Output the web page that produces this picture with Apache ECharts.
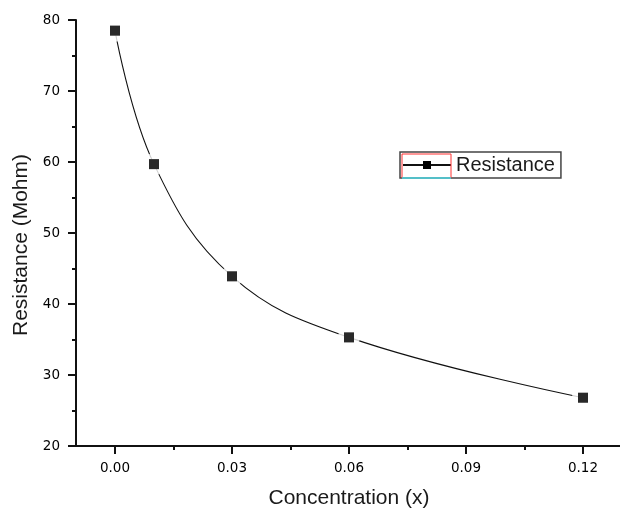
<!DOCTYPE html>
<html>
<head>
<meta charset="utf-8">
<script src="https://cdn.jsdelivr.net/npm/echarts@6/dist/echarts.min.js"></script>
<style>
  html, body { margin: 0; padding: 0; background: #fff; }
  #main { width: 620px; height: 510px; }
</style>
</head>
<body>
<div id="main"></div>
<script>
// data
const concentration = [0, 0.01, 0.03, 0.06, 0.12];
const resistance = [78.5, 59.7, 43.9, 35.3, 26.8];
const xTicks = [0, 0.03, 0.06, 0.09, 0.12];
const xMinorTicks = [0.015, 0.045, 0.075, 0.105];
const seriesName = 'Resistance';

const points = concentration.map((c, i) => [c, resistance[i]]);
const axisColor = '#111';
const font = 'DejaVu Sans';
const titleFont = 'Liberation Sans';

const chart = echarts.init(document.getElementById('main'), null, { renderer: 'canvas' });

const option = {
  animation: false,
  backgroundColor: '#fff',
  grid: { left: 76, top: 20, width: 546, height: 426, outerBoundsMode: 'none', containLabel: false },
  legend: {
    data: [seriesName],
    left: 400,
    top: 152,
    orient: 'horizontal',
    padding: [3, 6, 3, 2],
    borderColor: '#444',
    borderWidth: 1.5,
    itemWidth: 48,
    itemHeight: 10,
    textStyle: { fontFamily: titleFont, fontSize: 20, color: '#1a1a1a' }
  },
  // odd red/cyan frame round the legend key in the original
  graphic: [
    { type: 'rect', shape: { x: 402, y: 154, width: 49, height: 24 }, style: { fill: 'none', stroke: '#ff3030', lineWidth: 1 }, z: 100 },
    { type: 'line', shape: { x1: 402, y1: 178, x2: 451, y2: 178 }, style: { stroke: '#33e5f0', lineWidth: 1.5 }, z: 101 }
  ],
  xAxis: [
    {
      type: 'value',
      min: -0.01,
      max: 0.13,
      position: 'bottom',
      name: 'Concentration (x)',
      nameLocation: 'middle',
      nameGap: 42,
      nameTextStyle: { fontFamily: titleFont, fontSize: 21, color: '#1a1a1a' },
      axisLine: { show: true, onZero: false, lineStyle: { color: axisColor, width: 2 } },
      axisTick: { show: true, length: 8, customValues: xTicks, lineStyle: { color: axisColor, width: 2 } },
      axisLabel: {
        customValues: xTicks,
        margin: 15,
        fontFamily: font,
        fontSize: 13.5,
        color: '#000',
        formatter: v => v.toFixed(2)
      },
      splitLine: { show: false }
    },
    {
      // minor ticks only
      type: 'value',
      min: -0.01,
      max: 0.13,
      position: 'bottom',
      axisLine: { show: false, onZero: false },
      axisTick: { show: true, length: 4, customValues: xMinorTicks, lineStyle: { color: axisColor, width: 2 } },
      axisLabel: { show: false },
      splitLine: { show: false }
    }
  ],
  yAxis: {
    type: 'value',
    min: 20,
    max: 80,
    interval: 10,
    name: 'Resistance (Mohm)',
    nameLocation: 'middle',
    nameGap: 43,
    nameTextStyle: { fontFamily: titleFont, fontSize: 21, color: '#1a1a1a', padding: [0, 24, 0, 0] },
    axisLine: { show: true, onZero: false, lineStyle: { color: axisColor, width: 2 } },
    axisTick: { show: true, length: 8, lineStyle: { color: axisColor, width: 2 } },
    minorTick: { show: true, splitNumber: 2, length: 4, lineStyle: { color: axisColor, width: 2 } },
    axisLabel: { margin: 16, fontFamily: font, fontSize: 13.5, color: '#000' },
    splitLine: { show: false },
    minorSplitLine: { show: false }
  },
  series: [
    {
      name: seriesName,
      type: 'line',
      data: points,
      smooth: 0.4,
      symbol: 'rect',
      symbolSize: 10,
      itemStyle: { color: '#000' },
      lineStyle: { color: '#111', width: 1.1 },
      z: 2
    },
    {
      // white patch so the curve stops short of each marker
      name: 'gap',
      type: 'scatter',
      data: points,
      symbol: 'circle',
      symbolSize: 22,
      itemStyle: { color: '#fff' },
      silent: true,
      z: 3
    },
    {
      name: 'markers',
      type: 'scatter',
      data: points,
      symbol: 'rect',
      symbolSize: 10,
      itemStyle: { color: '#000' },
      silent: true,
      z: 4
    }
  ]
};

chart.setOption(option);
</script>
</body>
</html>
